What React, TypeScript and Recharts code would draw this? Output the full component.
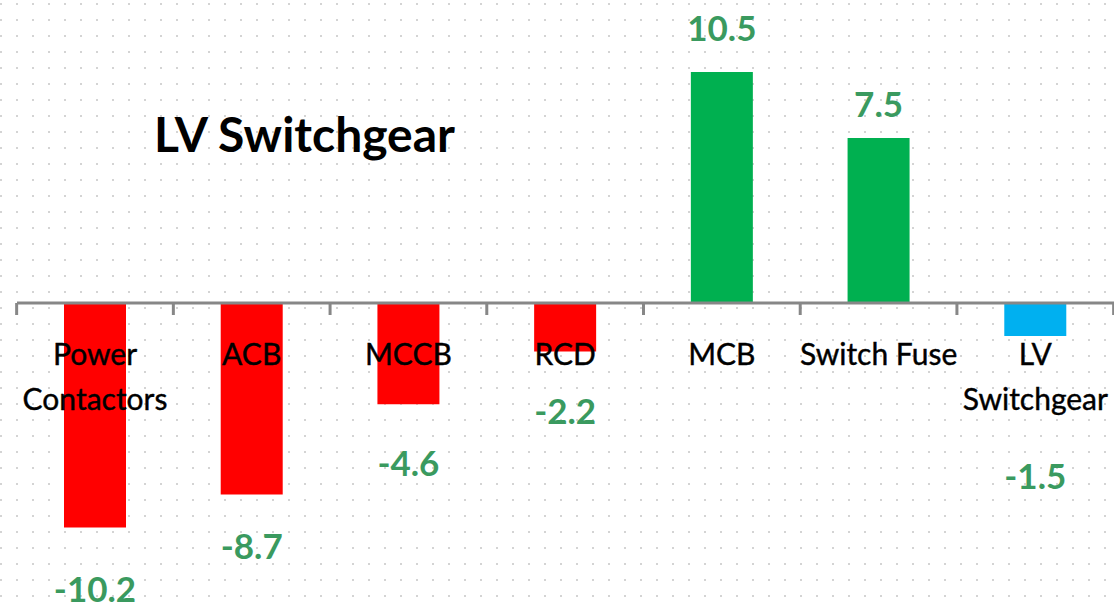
import { BarChart, Bar, XAxis, YAxis, CartesianGrid, ReferenceLine, LabelList, Cell } from 'recharts'

const categories = ['Power Contactors', 'ACB', 'MCCB', 'RCD', 'MCB', 'Switch Fuse', 'LV Switchgear']
const categoryLines = [['Power', 'Contactors'], ['ACB'], ['MCCB'], ['RCD'], ['MCB'], ['Switch Fuse'], ['LV', 'Switchgear']]
const growth = [-10.2, -8.7, -4.6, -2.2, 10.5, 7.5, -1.5]
const barColors = ['#FF0000', '#FF0000', '#FF0000', '#FF0000', '#00B050', '#00B050', '#00B0F0']
// distance of each value label from the end of its bar (manual placement, as in the source)
const labelGap = [61, 51, 58, 59, 45, 35, 139]

const W = 1114
const H = 608
const margin = { top: 0, right: 0, bottom: 0, left: 17 }
const band = (W - margin.left - margin.right) / categories.length

const data = categories.map((name, i) => ({ name, value: growth[i] }))

const gridRows: number[] = []
for (let y = 4; y < H; y += 16) gridRows.push(y)

function geom(props: any) {
  const vb = props.viewBox || {}
  const x = props.x ?? vb.x
  const y = props.y ?? vb.y
  const w = props.width ?? vb.width
  const h = props.height ?? vb.height
  const top = Math.min(y, y + h)
  const bottom = Math.max(y, y + h)
  return { cx: x + w / 2, top, bottom }
}

function ValueLabel(props: any) {
  const { index, value } = props
  const { cx, top, bottom } = geom(props)
  const v = Number(value)
  const cy = v >= 0 ? top - labelGap[index] : bottom + labelGap[index]
  return (
    <text x={cx} y={cy} textAnchor="middle" dominantBaseline="central"
      fill="#3A9A5F" fontSize={35} fontWeight={700} fontFamily="Lato">
      {v.toFixed(1)}
    </text>
  )
}

function CategoryLabel(props: any) {
  const { index, value } = props
  const { cx, top, bottom } = geom(props)
  const zero = Number(value) >= 0 ? bottom : top
  const lines = categoryLines[index]
  return (
    <g>
      <line x1={cx - band / 2} x2={cx - band / 2} y1={zero} y2={zero + 12} stroke="#878787" strokeWidth={3} />
      {index === categories.length - 1 && (
        <line x1={cx + band / 2} x2={cx + band / 2} y1={zero} y2={zero + 12} stroke="#878787" strokeWidth={3} />
      )}
      {lines.map((t, k) => (
        <text key={k} x={cx} y={zero + 50 + k * 45} textAnchor="middle" dominantBaseline="central"
          fill="#000" fontSize={30} fontFamily="Lato" stroke="#000" strokeWidth={0.4}>
          {t}
        </text>
      ))}
    </g>
  )
}

export default function App() {
  return (
    <div style={{ position: 'absolute', left: 0, top: 0, width: W, height: H, background: '#fff' }}>
      <BarChart width={W} height={H} data={data} margin={margin}>
        <CartesianGrid x={0} y={0} width={W} height={H} vertical={false} horizontalPoints={gridRows}
          stroke="#d4d4d4" strokeWidth={2} strokeDasharray="2 14" />
        <XAxis dataKey="name" hide />
        <YAxis hide domain={[-13.86, 13.77]} allowDataOverflow />
        <ReferenceLine y={0} stroke="#878787" strokeWidth={3} />
        <Bar dataKey="value" barSize={62} isAnimationActive={false}>
          {data.map((d, i) => <Cell key={d.name} fill={barColors[i]} />)}
          <LabelList dataKey="value" content={<CategoryLabel />} />
          <LabelList dataKey="value" content={<ValueLabel />} />
        </Bar>
      </BarChart>
      <div style={{ position: 'absolute', left: 154, top: 105, fontFamily: 'Lato', fontWeight: 700, fontSize: 48, lineHeight: '57px', color: '#000', whiteSpace: 'nowrap' }}>
        LV Switchgear
      </div>
    </div>
  )
}
